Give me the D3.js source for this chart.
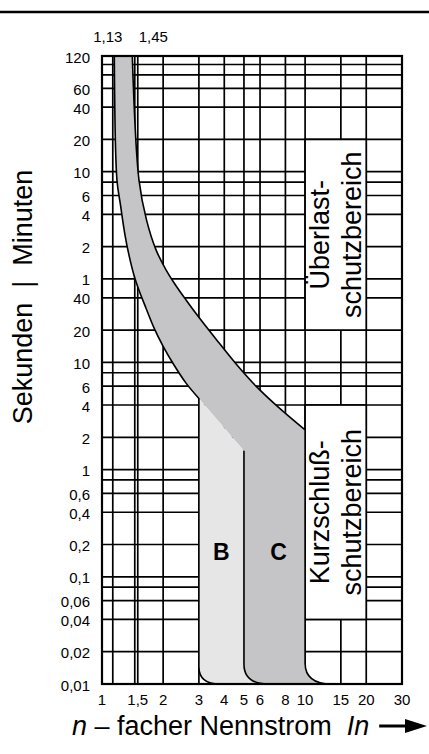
<!doctype html>
<html>
<head>
<meta charset="utf-8">
<style>
  body { margin: 0; background: #fff; }
  svg text { font-family: "Liberation Sans", Arial, Helvetica, sans-serif; fill: #000; }
  .grid line { stroke: #000; stroke-width: 1.7; }
  .edge { fill: none; stroke: #000; stroke-width: 1.6; }
</style>
<script src="https://cdn.jsdelivr.net/npm/d3@7"></script>
</head>
<body>
<svg width="429" height="754"></svg>
<script>
// grid values (x: multiples of In, y: minutes on top, seconds below)
const xLines = [1.13, 1.45, 1.5, 2, 3, 4, 5, 6, 8, 10, 15, 20];
const xLabels = [1, 1.5, 2, 3, 4, 5, 6, 8, 10, 15, 20, 30];
const topLabels = [1.13, 1.45];
const minuteLines = [120, 100, 80, 60, 40, 20, 10, 8, 6, 4, 2, 1];
const minuteLabels = [120, 60, 40, 20, 10, 6, 4, 2, 1];
const secondLines = [40, 20, 10, 8, 6, 4, 2, 1, 0.8, 0.6, 0.4, 0.2, 0.1, 0.08, 0.06, 0.04, 0.02, 0.01];
const secondLabels = [40, 20, 10, 6, 4, 2, 1, 0.6, 0.4, 0.2, 0.1, 0.06, 0.04, 0.02, 0.01];

// thermal band: [n, seconds]
const lowerCurve = [[1.15, 7200], [1.185, 500], [1.233, 294], [1.298, 154], [1.358, 100],
                    [1.437, 65], [1.521, 47], [1.647, 32], [1.803, 21], [1.997, 14.2],
                    [2.262, 9.45], [2.593, 6.4], [3, 4.6]];
const upperCurve = [[1.41, 7200], [1.521, 500], [1.656, 213], [1.845, 112], [2.066, 73],
                    [2.301, 52.7], [2.593, 38.2], [3.072, 24.8], [3.768, 15.2], [4.62, 9.45],
                    [5.732, 6.0], [7.355, 3.84], [10, 2.34]];
const bcEdge = [[3, 4.6], [5, 1.5]];

// magnetic trip edges (3, 5, 10 x In) and where they bend into 0,01 s
const tripN = [3, 5, 10];
const bendT = [0.0145, 0.0154, 0.0157];
const bendN = [3.8, 6.6, 13.5];

// text zones, x from 10 to 20 In
const zoneNames = [["Überlast-", "schutzbereich"], ["Kurzschluß-", "schutzbereich"]];
const zoneSpans = [[1200, 20], [4, 0.04]];
const zoneX = [10, 20];
const classNames = ["B", "C"];

const svg = d3.select("svg");
const x = d3.scaleLog().domain([1, 30]).range([102, 402]);
const y = d3.scaleLog().domain([0.01, 7200]).range([684, 56]);
const comma = v => String(v).replace(".", ",");

svg.append("line")
   .attr("x1", 0).attr("x2", 429).attr("y1", 12).attr("y2", 12)
   .attr("stroke", "#000").attr("stroke-width", 2.5);

// grid
const grid = svg.append("g").attr("class", "grid");
grid.selectAll("line.h")
    .data(minuteLines.map(m => m * 60).concat(secondLines))
    .join("line").attr("class", "h")
    .attr("x1", x(1)).attr("x2", x(30))
    .attr("y1", d => y(d)).attr("y2", d => y(d));
grid.selectAll("line.v")
    .data(xLines)
    .join("line").attr("class", "v")
    .attr("x1", d => x(d)).attr("x2", d => x(d))
    .attr("y1", y(7200)).attr("y2", y(0.01));

// white label zones
svg.selectAll("rect.zone")
   .data(zoneSpans)
   .join("rect").attr("class", "zone")
   .attr("x", x(zoneX[0])).attr("width", x(zoneX[1]) - x(zoneX[0]))
   .attr("y", d => y(d[0])).attr("height", d => y(d[1]) - y(d[0]))
   .attr("fill", "#fff").attr("stroke", "#000").attr("stroke-width", 1.7);

// trip curves
const smooth = d3.line().x(d => x(d[0])).y(d => y(d[1])).curve(d3.curveCatmullRom.alpha(0.5));
function follow(p) {   // keep drawing on the same sub-path
    return {
        moveTo: (a, b) => p.lineTo(a, b),
        lineTo: (a, b) => p.lineTo(a, b),
        bezierCurveTo: (a, b, c, d, e, f) => p.bezierCurveTo(a, b, c, d, e, f),
        closePath: () => p.closePath()
    };
}
function bendDown(p, i) {
    p.lineTo(x(tripN[i]), y(bendT[i]));
    p.quadraticCurveTo(x(tripN[i]), y(0.01), x(bendN[i]), y(0.01));
}
function bendUp(p, i) {
    p.lineTo(x(bendN[i]), y(0.01));
    p.quadraticCurveTo(x(tripN[i]), y(0.01), x(tripN[i]), y(bendT[i]));
}

// mid grey band incl. C
const band = d3.path();
smooth.context(band)(lowerCurve);
band.lineTo(x(bcEdge[1][0]), y(bcEdge[1][1]));
bendDown(band, 1);
bendUp(band, 2);
smooth.context(follow(band))(upperCurve.slice().reverse());
band.closePath();
svg.append("path").attr("d", band.toString()).attr("fill", "#c5c4c7");

// light grey B
const bArea = d3.path();
bArea.moveTo(x(bcEdge[0][0]), y(bcEdge[0][1]));
bArea.lineTo(x(bcEdge[1][0]), y(bcEdge[1][1]));
bendDown(bArea, 1);
bendUp(bArea, 0);
bArea.closePath();
svg.append("path").attr("d", bArea.toString()).attr("fill", "#e6e6e6");

// outlines
const e1 = d3.path();
smooth.context(e1)(lowerCurve);
bendDown(e1, 0);
const e2 = d3.path();
e2.moveTo(x(bcEdge[1][0]), y(bcEdge[1][1]));
bendDown(e2, 1);
const e3 = d3.path();
smooth.context(e3)(upperCurve);
bendDown(e3, 2);
smooth.context(null);
svg.selectAll("path.edge")
   .data([e1, e2, e3])
   .join("path").attr("class", "edge")
   .attr("d", d => d.toString());

// frame
svg.append("rect")
   .attr("x", x(1)).attr("y", y(7200))
   .attr("width", x(30) - x(1)).attr("height", y(0.01) - y(7200))
   .attr("fill", "none").attr("stroke", "#000").attr("stroke-width", 2.2);

// y labels
const yLabels = minuteLabels.map(m => ({t: m * 60, s: String(m)}))
    .concat(secondLabels.map(s => ({t: s, s: comma(s)})));
svg.selectAll("text.ylab")
   .data(yLabels)
   .join("text").attr("class", "ylab")
   .attr("x", 90).attr("y", d => y(d.t) + 1)
   .attr("text-anchor", "end").attr("dominant-baseline", "central")
   .style("font-size", "15px")
   .text(d => d.s);

// x labels
svg.selectAll("text.xlab")
   .data(xLabels)
   .join("text").attr("class", "xlab")
   .attr("x", d => x(d)).attr("y", 705)
   .attr("text-anchor", "middle")
   .style("font-size", "15px")
   .text(d => comma(d));

svg.selectAll("text.toplab")
   .data(topLabels)
   .join("text").attr("class", "toplab")
   .attr("x", (d, i) => i === 0 ? x(d) - 5 : x(d) + 4)
   .attr("y", 42)
   .attr("text-anchor", (d, i) => i === 0 ? "middle" : "start")
   .style("font-size", "15px")
   .text(d => comma(d));

// B / C
svg.selectAll("text.cls")
   .data(classNames)
   .join("text").attr("class", "cls")
   .attr("x", (d, i) => x(Math.sqrt(tripN[i] * tripN[i + 1])) + i * 4)
   .attr("y", y(0.17))
   .attr("text-anchor", "middle").attr("dominant-baseline", "central")
   .style("font-size", "23px").style("font-weight", "bold")
   .text(d => d);

// zone texts
const zcx = (x(zoneX[0]) + x(zoneX[1])) / 2;
zoneNames.forEach((lines, k) => {
    const cy = (y(zoneSpans[k][0]) + y(zoneSpans[k][1])) / 2;
    lines.forEach((s, j) => {
        svg.append("text")
           .attr("transform", "translate(" + (zcx + (j === 0 ? -16 : 16)) + "," + cy + ") rotate(-90)")
           .attr("text-anchor", "middle").attr("dominant-baseline", "central")
           .style("font-size", "27px")
           .text(s);
    });
});

// axis titles
svg.append("text")
   .attr("transform", "translate(32,297) rotate(-90)")
   .attr("text-anchor", "middle")
   .style("font-size", "27px").style("white-space", "pre")
   .text("Sekunden  |  Minuten");

const title = svg.append("text")
   .attr("x", 72).attr("y", 735)
   .style("font-size", "27px").style("white-space", "pre");
title.append("tspan").style("font-style", "italic").text("n");
title.append("tspan").text(" – facher Nennstrom  ");
title.append("tspan").style("font-style", "italic").text("In");

const tb = title.node().getBBox();
const ax = tb.x + tb.width + 10, ay = 726;
svg.append("line")
   .attr("x1", ax).attr("x2", 410).attr("y1", ay).attr("y2", ay)
   .attr("stroke", "#000").attr("stroke-width", 3);
svg.append("path")
   .attr("d", d3.line()([[405, ay - 7], [427, ay], [405, ay + 7]]) + "Z")
   .attr("fill", "#000");
</script>
</body>
</html>
